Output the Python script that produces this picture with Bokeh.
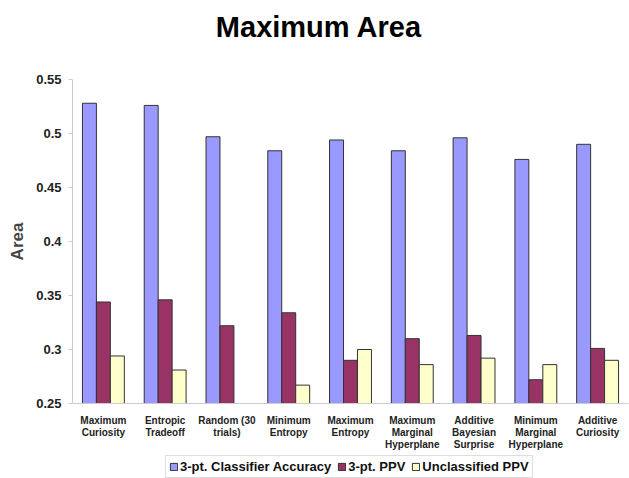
import math
from bokeh.plotting import figure
from bokeh.layouts import column
from bokeh.models import (FactorRange, Legend, LegendItem, NumeralTickFormatter, FixedTicker,
                          Range1d, Label)
from bokeh.transform import dodge
from bokeh.embed import file_html
from bokeh.resources import INLINE

strategies = [
    "Maximum\nCuriosity",
    "Entropic\nTradeoff",
    "Random (30\ntrials)",
    "Minimum\nEntropy",
    "Maximum\nEntropy",
    "Maximum\nMarginal\nHyperplane",
    "Additive\nBayesian\nSurprise",
    "Minimum\nMarginal\nHyperplane",
    "Additive\nCuriosity",
]
classifier_accuracy = [0.528, 0.526, 0.497, 0.484, 0.494, 0.484, 0.496, 0.476, 0.490]
ppv_3pt = [0.344, 0.346, 0.322, 0.334, 0.290, 0.310, 0.313, 0.272, 0.301]
unclassified_ppv = [0.294, 0.281, None, 0.267, 0.300, 0.286, 0.292, 0.286, 0.290]
series_names = ["3-pt. Classifier Accuracy", "3-pt. PPV", "Unclassified PPV"]
y_ticks = [0.25, 0.3, 0.35, 0.4, 0.45, 0.5, 0.55]
chart_title = "Maximum Area"

FONT = "Liberation Sans"
colors = ["#9999FF", "#993366", "#FFFFCC"]
OUTLINE = "#333333"
W = 629
LEFT, RIGHT = 72, 1


def clean(vals):
    return [math.nan if v is None else v for v in vals]


def strip(height):
    """A bare figure used as a band for the heading or the key."""
    f = figure(
        width=W, height=height,
        x_range=Range1d(0, 1), y_range=Range1d(0, 1),
        output_backend="svg", toolbar_location=None,
        x_axis_location=None, y_axis_location=None,
        min_border_left=LEFT, min_border_right=RIGHT,
        min_border_top=0, min_border_bottom=0,
    )
    f.outline_line_color = None
    f.xgrid.grid_line_color = None
    f.ygrid.grid_line_color = None
    return f


source = dict(
    cat=strategies,
    acc=classifier_accuracy,
    ppv=ppv_3pt,
    unc=clean(unclassified_ppv),
)

# heading band
head = strip(69)
head.add_layout(Label(
    x=318.5 - LEFT, y=43, x_units="screen", y_units="screen",
    text=chart_title, text_align="center", text_baseline="alphabetic",
    text_font=FONT, text_font_size="29px", text_font_style="bold", text_color="#000000",
))

# main chart
p = figure(
    width=W, height=386,
    x_range=FactorRange(factors=strategies, range_padding=0),
    y_range=Range1d(0.25, 0.55),
    output_backend="svg", toolbar_location=None,
    min_border_left=LEFT, min_border_right=RIGHT, min_border_top=10, min_border_bottom=52,
)
p.outline_line_color = None
p.xgrid.grid_line_color = None
p.ygrid.grid_line_color = None

bw = 0.226
for key, off, col in zip(["acc", "ppv", "unc"], [-bw, 0.0, bw], colors):
    p.vbar(x=dodge("cat", off, range=p.x_range), top=key, bottom=0.0, width=bw,
           source=source, fill_color=col, line_color=OUTLINE, line_width=1)

# y axis
p.yaxis.ticker = FixedTicker(ticks=y_ticks, minor_ticks=[])
p.yaxis.formatter = NumeralTickFormatter(format="0.[00]")
p.yaxis.axis_label = "Area"
p.yaxis.axis_label_text_font = FONT
p.yaxis.axis_label_text_font_style = "bold"
p.yaxis.axis_label_text_font_size = "17px"
p.yaxis.axis_label_standoff = 6
p.yaxis.major_label_text_font = FONT
p.yaxis.major_label_text_font_style = "bold"
p.yaxis.major_label_text_font_size = "13px"
p.yaxis.major_label_text_color = "#222222"
p.yaxis.axis_line_color = "#cccccc"
p.yaxis.major_tick_line_color = "#cccccc"
p.yaxis.major_tick_out = 4
p.yaxis.major_tick_in = 0
p.yaxis.major_label_standoff = 7

# x axis
p.xaxis.axis_line_color = "#cccccc"
p.xaxis.major_tick_line_color = None
p.xaxis.major_label_text_font = FONT
p.xaxis.major_label_text_font_style = "bold"
p.xaxis.major_label_text_font_size = "10px"
p.xaxis.major_label_text_color = "#222222"
p.xaxis.major_label_standoff = 5
p.xaxis.major_label_text_line_height = 1.1

# key band; its swatch glyphs sit outside the visible range
lg = strip(23)
keys = [lg.vbar(x=[-5], top=[-5], bottom=[-6], width=0.1, fill_color=c, line_color=OUTLINE)
        for c in colors]
legend = Legend(
    items=[LegendItem(label=n, renderers=[r]) for n, r in zip(series_names, keys)],
    orientation="horizontal",
    location=(165 - LEFT, 0),
    label_text_font=FONT,
    label_text_font_style="bold",
    label_text_font_size="13px",
    label_text_color="#111111",
    glyph_width=9, glyph_height=9,
    label_standoff=2, spacing=6,
    padding=3, margin=0,
    border_line_color="#bbbbbb",
)
lg.add_layout(legend, "center")

layout = column(head, p, lg, spacing=0)
open("out.html", "w").write(file_html(layout, INLINE))
